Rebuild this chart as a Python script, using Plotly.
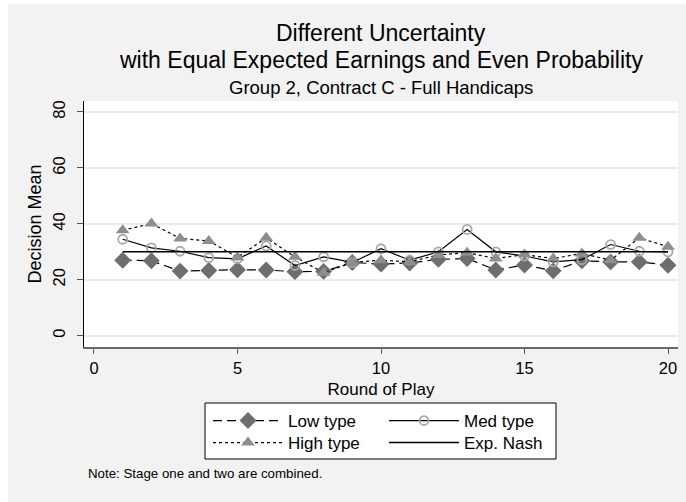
import plotly.graph_objects as go

rounds = list(range(1, 21))
low_type = [27.0, 26.8, 23.1, 23.3, 23.6, 23.5, 22.9, 23.0, 26.2, 25.6, 26.0, 27.3, 27.6, 23.5, 25.3, 23.2, 26.8, 26.4, 26.4, 25.2]
med_type = [34.5, 31.4, 30.2, 27.9, 27.5, 32.1, 25.1, 28.2, 26.2, 31.1, 27.0, 30.0, 38.0, 30.0, 28.5, 26.4, 27.2, 32.6, 30.2, 30.0]
high_type = [37.7, 40.1, 34.8, 33.9, 28.0, 35.0, 28.2, 22.5, 26.2, 27.0, 26.4, 28.9, 29.7, 27.6, 29.0, 27.6, 29.4, 27.0, 35.0, 31.8]
exp_nash = [30.0] * 20

x_ticks = [0, 5, 10, 15, 20]
y_ticks = [0, 20, 40, 60, 80]

FONT = "Liberation Sans, Arial, Helvetica, sans-serif"

fig = go.Figure()
fig.add_trace(go.Scatter(x=rounds, y=low_type, name="Low type", mode="lines+markers",
                         line=dict(color="black", width=1.2, dash="9px,5px"),
                         marker=dict(symbol="diamond", size=13, color="#6e6e6e"),
                         legend="legend"))
fig.add_trace(go.Scatter(x=rounds, y=med_type, name="Med type", mode="lines+markers",
                         line=dict(color="black", width=1.2),
                         marker=dict(symbol="circle-open", size=9, color="#a8a8a8",
                                     line=dict(width=1.8, color="#a8a8a8")),
                         legend="legend2"))
fig.add_trace(go.Scatter(x=rounds, y=high_type, name="High type", mode="lines+markers",
                         line=dict(color="black", width=1.2, dash="3px,3px"),
                         marker=dict(symbol="triangle-up", size=12, color="#8e8e8e"),
                         legend="legend3"))
fig.add_trace(go.Scatter(x=rounds, y=exp_nash, name="Exp. Nash", mode="lines",
                         line=dict(color="black", width=1.5),
                         legend="legend4"))

W, H = 686, 502
L, R, T, B = 84, 8, 101, 155
pw, ph = W - L - R, H - T - B

def px(xp):
    return (xp - L) / pw

def py(yp):
    return (H - B - yp) / ph

ITEMW = 70
legend_common = dict(bgcolor="rgba(0,0,0,0)", borderwidth=0,
                     font=dict(family=FONT, size=17, color="black"),
                     orientation="v", xanchor="left", yanchor="middle",
                     itemwidth=ITEMW)
off = ITEMW + 11

fig.update_layout(
    width=W, height=H,
    margin=dict(l=L, r=R, t=T, b=B, pad=0),
    paper_bgcolor="white",
    plot_bgcolor="white",
    font=dict(family=FONT, color="black"),
    showlegend=True,
    legend=dict(x=px(289 - off), y=py(421), **legend_common),
    legend2=dict(x=px(465 - off), y=py(421), **legend_common),
    legend3=dict(x=px(289 - off), y=py(443), **legend_common),
    legend4=dict(x=px(465 - off), y=py(443), **legend_common),
    xaxis=dict(range=[-0.348, 20.348], tickvals=x_ticks, ticks="outside", ticklen=5,
               tickcolor="#555555", tickwidth=1, showline=True, linecolor="#6a6a6a",
               linewidth=1.5, showgrid=False, zeroline=False,
               tickfont=dict(size=16.5, family=FONT, color="black"),
               title=dict(text="Round of Play", font=dict(size=17, family=FONT, color="black"),
                          standoff=8)),
    yaxis=dict(range=[-4.04, 83.93], tickvals=y_ticks, tickangle=-90, ticks="outside",
               ticklen=6, tickcolor="#555555", tickwidth=1, showline=True,
               linecolor="black", linewidth=1, showgrid=True, gridcolor="#ebebeb",
               gridwidth=1.5, zeroline=False, ticklabelstandoff=5,
               tickfont=dict(size=16.5, family=FONT, color="black"),
               title=dict(text="Decision Mean", font=dict(size=18, family=FONT, color="black"),
                          standoff=4)),
    shapes=[
        dict(type="rect", xref="paper", yref="paper", layer="below",
             x0=px(8), x1=px(W + 5), y0=py(H + 5), y1=py(4),
             fillcolor="#f2f2f2", line=dict(width=0)),
        dict(type="rect", xref="paper", yref="paper", layer="below",
             x0=0, x1=1, y0=0, y1=1, fillcolor="white", line=dict(width=0)),
        dict(type="rect", xref="paper", yref="paper", layer="below",
             x0=px(205), x1=px(556), y0=py(459), y1=py(403),
             fillcolor="white", line=dict(width=0)),
        dict(type="rect", xref="paper", yref="paper", layer="above",
             x0=px(205), x1=px(556), y0=py(459), y1=py(403),
             fillcolor="rgba(0,0,0,0)", line=dict(color="black", width=1)),
    ],
    annotations=[
        dict(text="Different Uncertainty", xref="paper", yref="paper",
             x=0.5, y=py(33), xanchor="center", yanchor="middle",
             showarrow=False, font=dict(size=23, family=FONT, color="black")),
        dict(text="with Equal Expected Earnings and Even Probability", xref="paper", yref="paper",
             x=0.5, y=py(60), xanchor="center", yanchor="middle",
             showarrow=False, font=dict(size=23, family=FONT, color="black")),
        dict(text="Group 2, Contract C - Full Handicaps", xref="paper", yref="paper",
             x=0.5, y=py(87), xanchor="center", yanchor="middle", showarrow=False,
             font=dict(size=18.5, family=FONT, color="black")),
        dict(text="Note: Stage one and two are combined.", xref="paper", yref="paper",
             x=px(86), y=py(473), xanchor="left", yanchor="middle", showarrow=False,
             font=dict(size=13.3, family=FONT, color="black")),
    ],
)

fig.write_html("out.html")
